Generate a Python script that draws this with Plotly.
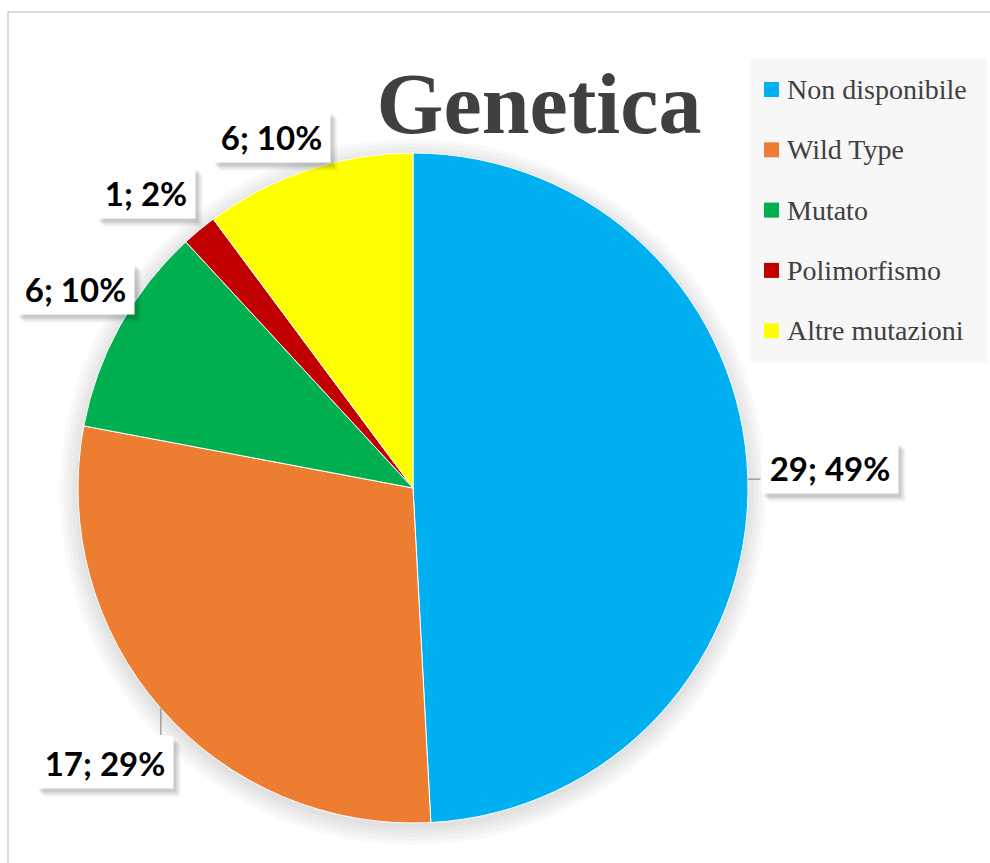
import math
import plotly.graph_objects as go

# ---------------- data ----------------
categories = ["Non disponibile", "Wild Type", "Mutato", "Polimorfismo", "Altre mutazioni"]
values = [29, 17, 6, 1, 6]
colors = ["#00B0F0", "#ED7D31", "#00B050", "#C00000", "#FFFF00"]
title_text = "Genetica"

# ---------------- layout constants (pixels) ----------------
W, H = 990, 863
CX, CY, R = 413, 488, 335
label_offsets = [(82, -12), (-56, 54), (-44, -37), (-53, -38), (-36, -33)]
leader_offsets = [(14, 0), (0, 28), None, None, None]
BOX_H = 51
CHAR_W = 19.5


def px(x):
    return x / W


def py(y):
    return 1 - y / H


fig = go.Figure(
    go.Pie(
        labels=categories,
        values=values,
        marker=dict(colors=colors, line=dict(color="white", width=1)),
        sort=False,
        direction="clockwise",
        rotation=0,
        textinfo="none",
        hoverinfo="label+value+percent",
        showlegend=False,
        domain=dict(x=[px(CX - R), px(CX + R)], y=[py(CY + R), py(CY - R)]),
    )
)

shapes = []
# chart border
shapes.append(dict(type="rect", xref="paper", yref="paper", x0=px(8), x1=px(W + 20), y0=py(H + 20), y1=py(12),
                   line=dict(color="#cfcfcf", width=1.5), fillcolor="rgba(0,0,0,0)", layer="below"))
# soft shadow around the pie
for k in range(2, 22, 4):
    shapes.append(dict(type="circle", xref="paper", yref="paper",
                       x0=px(CX - R - k), x1=px(CX + R + k), y0=py(CY + 4 + R + k), y1=py(CY + 4 - R - k),
                       line=dict(width=0), fillcolor="rgba(0,0,0,0.025)", layer="below"))

annotations = []
total = sum(values)
cum = 0
for i, v in enumerate(values):
    mid = (cum + v / 2) / total * 2 * math.pi
    cum += v
    ex = CX + R * math.sin(mid)
    ey = CY - R * math.cos(mid)
    plain = f"{v}; {round(v / total * 100)}%"
    bw = round(CHAR_W * len(plain))
    dx, dy = label_offsets[i]
    if leader_offsets[i] is not None:
        lx, ly = leader_offsets[i]
        annotations.append(dict(xref="paper", yref="paper", x=px(ex), y=py(ey), text="", showarrow=True,
                                ax=lx, ay=ly, arrowhead=0, arrowwidth=1.2, arrowcolor="#8c8c8c", standoff=0))
    for sx, sy, a in [(7, 8, 0.05), (5, 6, 0.07), (3, 4, 0.09)]:
        annotations.append(dict(xref="paper", yref="paper", x=px(ex), y=py(ey), text=" ", showarrow=False,
                                xanchor="center", yanchor="middle",
                                xshift=dx + sx, yshift=-(dy + sy), bgcolor=f"rgba(0,0,0,{a})", borderpad=0,
                                width=bw, height=BOX_H,
                                font=dict(family="Lato", size=10, color="rgba(0,0,0,0)")))
    annotations.append(dict(xref="paper", yref="paper", x=px(ex), y=py(ey), text=f"<b>{plain}</b>", showarrow=False,
                            xanchor="center", yanchor="middle",
                            xshift=dx, yshift=-dy, bgcolor="white", borderpad=0, width=bw, height=BOX_H,
                            font=dict(family="Lato", size=33, color="black")))

# legend (manual)
shapes.append(dict(type="rect", xref="paper", yref="paper", x0=px(750), x1=px(987), y0=py(362), y1=py(58),
                   line=dict(width=0), fillcolor="#f7f7f7"))
for i, (cat, col) in enumerate(zip(categories, colors)):
    yc = 89.5 + i * 60.3
    shapes.append(dict(type="rect", xref="paper", yref="paper", x0=px(764), x1=px(779), y0=py(yc + 7.5), y1=py(yc - 7.5),
                       line=dict(width=0), fillcolor=col))
    annotations.append(dict(xref="paper", yref="paper", x=px(785), y=py(yc), xanchor="left", yanchor="middle",
                            text=cat, showarrow=False,
                            font=dict(family="Liberation Serif", size=28, color="#404040")))

fig.update_layout(
    width=W, height=H, autosize=False,
    margin=dict(l=0, r=0, t=0, b=0),
    paper_bgcolor="white", plot_bgcolor="white",
    title=dict(text=f"<b>{title_text}</b>", x=px(539), xanchor="center", y=py(103), yanchor="middle",
               font=dict(family="Liberation Serif", size=86, color="#404040")),
    shapes=shapes, annotations=annotations,
)

fig.write_html("out.html")
